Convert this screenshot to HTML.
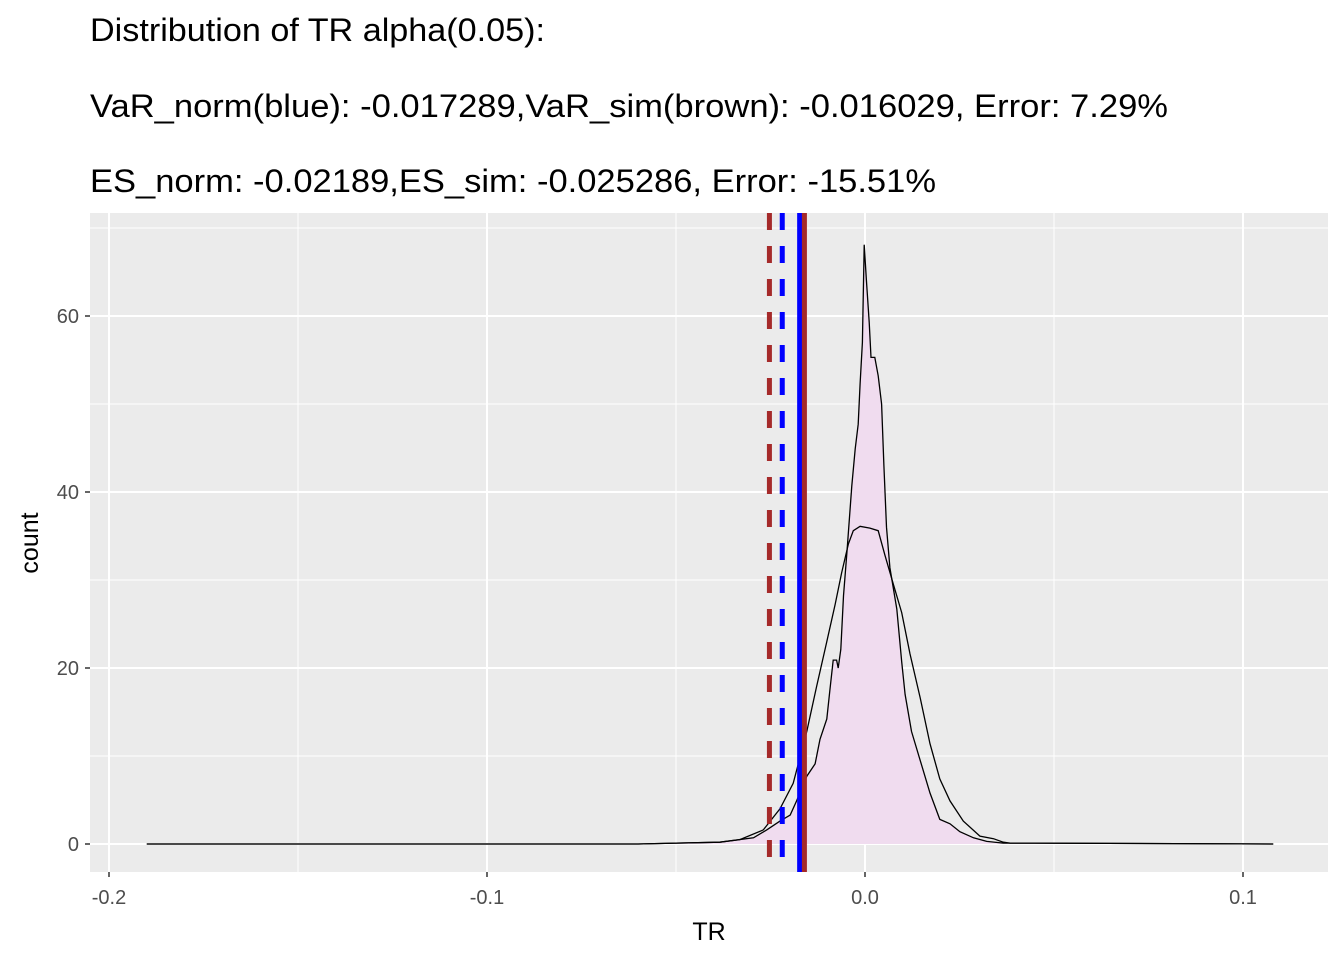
<!DOCTYPE html>
<html><head><meta charset="utf-8"><style>
body{margin:0;background:#fff;}
svg text{font-family:"Liberation Sans",Arial,sans-serif;}
</style></head><body>
<svg id="chart" width="1344" height="960" xmlns="http://www.w3.org/2000/svg">
<rect width="1344" height="960" fill="#fff"/>
<text x="90" y="41" font-size="32" textLength="455" lengthAdjust="spacingAndGlyphs" fill="#000">Distribution of TR alpha(0.05):</text>
<text x="90" y="117" font-size="32" textLength="1078" lengthAdjust="spacingAndGlyphs" fill="#000">VaR_norm(blue): -0.017289,VaR_sim(brown): -0.016029, Error: 7.29%</text>
<text x="90" y="192" font-size="32" textLength="846" lengthAdjust="spacingAndGlyphs" fill="#000">ES_norm: -0.02189,ES_sim: -0.025286, Error: -15.51%</text>
<rect x="90" y="213" width="1238" height="659" fill="#ebebeb"/>
<g id="grid"></g>
<g id="marks"></g>
<g id="axes"></g>
<text x="709" y="940" font-size="25" text-anchor="middle" fill="#000">TR</text>
<text transform="translate(38,543) rotate(-90)" font-size="25" text-anchor="middle" fill="#000">count</text>
</svg>
<script>
const xTicks=[-0.2,-0.1,0.0,0.1];
const xTickLabels=["-0.2","-0.1","0.0","0.1"];
const xMinor=[-0.15,-0.05,0.05];
const yTicks=[0,20,40,60];
const yMinor=[10,30,50,70];
const curveAx=[-0.19,-0.06,-0.05,-0.0384,-0.0295,-0.026,-0.0225,-0.0198,-0.0181,-0.0154,-0.0132,-0.0119,-0.0101,-0.0093,-0.0084,-0.0075,-0.0071,-0.0064,-0.0057,-0.0048,-0.0035,-0.0026,-0.0018,-0.0013,-0.0007,-0.0002,0.0004,0.0011,0.0016,0.0026,0.0035,0.0044,0.005,0.0057,0.0066,0.0084,0.0097,0.0106,0.0123,0.0146,0.0172,0.0198,0.0225,0.0251,0.0287,0.0322,0.0366,0.045,0.108];
const curveAy=[0,0,0.1,0.2,0.7,1.6,2.6,3.3,4.9,7.7,9.1,11.9,14.2,17.4,20.9,20.9,20.0,22.1,28.2,33.1,40.7,44.9,47.7,52.3,57.0,68.1,63.9,59.3,55.3,55.3,53.2,50,43,36,31.4,26.7,20.7,17,12.8,9.5,5.8,2.8,2.3,1.4,0.7,0.3,0.1,0.1,0];
const curveBx=[-0.19,-0.06,-0.05,-0.0384,-0.0331,-0.0269,-0.0225,-0.019,-0.0154,-0.0128,-0.0101,-0.0079,-0.0062,-0.0044,-0.0031,-0.0013,0.0013,0.0035,0.0053,0.0075,0.0097,0.0119,0.0146,0.0172,0.0198,0.0225,0.026,0.0304,0.034,0.0366,0.0384,0.045,0.108];
const curveBy=[0,0,0.1,0.2,0.5,1.6,4.0,6.9,12.8,17.9,23.0,27.2,30.8,34.1,35.6,36.1,35.9,35.6,32.8,29.5,26.3,21.6,16.6,11.4,7.4,4.9,2.6,0.9,0.6,0.2,0.1,0.1,0];
const dashedLines=[-0.025286,-0.02189];
const dashedColors=["#a52a2a","#0000ff"];
const solidLines=[-0.017289,-0.016029];
const solidColors=["#0000ff","#a52a2a"];
const X=v=>865+v*3780;
const Y=v=>844-v*8.8;
const NS="http://www.w3.org/2000/svg";
function mk(parent,tag,attrs){const e=document.createElementNS(NS,tag);for(const k in attrs)e.setAttribute(k,attrs[k]);document.getElementById(parent).appendChild(e);return e;}
xMinor.forEach(v=>{const e=mk('grid','line',{x1:X(v),x2:X(v),y1:213,y2:872,stroke:'#fff','stroke-width':1});

});
yMinor.forEach(v=>{const e=mk('grid','line',{x1:90,x2:1328,y1:Y(v),y2:Y(v),stroke:'#fff','stroke-width':1});

});
xTicks.forEach((v,i)=>{const e=mk('grid','line',{x1:X(v),x2:X(v),y1:213,y2:872,stroke:'#fff','stroke-width':2});


const t=mk('axes','line',{x1:X(v),x2:X(v),y1:872,y2:877,stroke:'#333','stroke-width':1.5});


const l=mk('axes','text',{x:X(v),y:904,'font-size':20,'text-anchor':'middle',fill:'#4d4d4d'});l.textContent=xTickLabels[i];

});
yTicks.forEach(v=>{const e=mk('grid','line',{x1:90,x2:1328,y1:Y(v),y2:Y(v),stroke:'#fff','stroke-width':2});


const t=mk('axes','line',{x1:85,x2:90,y1:Y(v),y2:Y(v),stroke:'#333','stroke-width':1.5});


const l=mk('axes','text',{x:79,y:Y(v)+7,'font-size':20,'text-anchor':'end',fill:'#4d4d4d'});l.textContent=String(v);

});
function pts(xs,ys){return xs.map((x,i)=>X(x).toFixed(1)+','+Y(ys[i]).toFixed(1)).join(' ');}
const fill=mk('marks','polygon',{points:X(curveAx[0])+','+Y(0)+' '+pts(curveAx,curveAy)+' '+X(curveAx[curveAx.length-1])+','+Y(0),fill:'#f0dcef'});


const cA=mk('marks','polyline',{points:pts(curveAx,curveAy),fill:'none',stroke:'#000','stroke-width':1.3});


const cB=mk('marks','polyline',{points:pts(curveBx,curveBy),fill:'none',stroke:'#000','stroke-width':1.3});


dashedLines.forEach((v,i)=>{const e=mk('marks','line',{x1:X(v),x2:X(v),y1:213,y2:872,stroke:dashedColors[i],'stroke-width':5,'stroke-dasharray':'17,16'});

});
solidLines.forEach((v,i)=>{const e=mk('marks','line',{x1:X(v),x2:X(v),y1:213,y2:872,stroke:solidColors[i],'stroke-width':5});

});
</script>
</body></html>
